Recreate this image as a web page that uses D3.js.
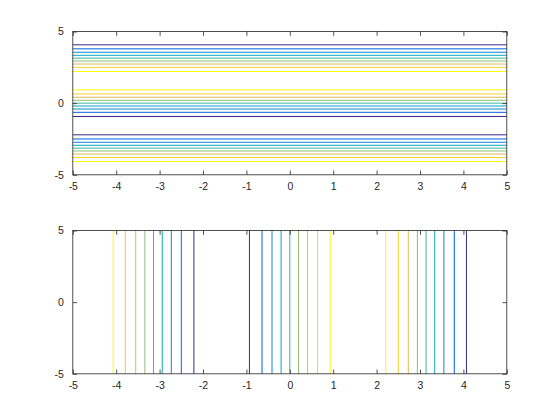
<!DOCTYPE html>
<html><head><meta charset="utf-8">
<script src="https://cdn.jsdelivr.net/npm/d3@7"></script>
<style>body{margin:0;background:#fff}svg{display:block}</style>
</head><body>
<script>
// contour levels and parula colours
const levels = [-0.8, -0.6, -0.4, -0.2, 0, 0.2, 0.4, 0.6, 0.8];
const levelColors = ["#352a87","#0363e1","#1485d4","#06a7c6","#38b99e","#92bf73","#d9ba56","#fcce2e","#f9fb0e"];
// top panel: horizontal contour lines, y positions per level (three per level)
const topLineY = [
  [-0.93, 4.07, -2.21],
  [-0.64, 3.79, -2.50],
  [-0.41, 3.55, -2.73],
  [-0.20, 3.34, -2.94],
  [0.00, 3.14, -3.14],
  [0.20, 2.94, -3.34],
  [0.41, 2.73, -3.55],
  [0.64, 2.50, -3.79],
  [0.93, 2.21, -4.07]
];
// bottom panel: vertical contour lines, x positions per level
const bottomLineX = [
  [-0.93, 4.07, -2.21],
  [-0.64, 3.79, -2.50],
  [-0.41, 3.55, -2.73],
  [-0.20, 3.34, -2.94],
  [0.00, 3.14, -3.14],
  [0.20, 2.94, -3.34],
  [0.41, 2.73, -3.55],
  [0.64, 2.50, -3.79],
  [0.93, 2.21, -4.07]
];
const xTicks = [-5,-4,-3,-2,-1,0,1,2,3,4,5];
const yTicks = [-5,0,5];
const domain = [-5,5];

const W=560,H=420;
const svg=d3.select("body").append("svg").attr("width",W).attr("height",H);
const axColor="#262626";
const left=72.8, right=506.8;
const panels=[{top:31.5,bottom:174.8,kind:"h"},{top:230.5,bottom:373.8,kind:"v"}];
const fmt = d=>String(d);

panels.forEach(p=>{
  const x=d3.scaleLinear().domain(domain).range([left,right]);
  const y=d3.scaleLinear().domain(domain).range([p.bottom,p.top]);
  const g=svg.append("g");
  const segs=[];
  levels.forEach((lv,i)=>{
    const arr = p.kind==="h"? topLineY[i] : bottomLineX[i];
    arr.forEach(v=>segs.push({v, c:levelColors[i]}));
  });
  g.selectAll("line.c").data(segs).enter().append("line")
    .attr("x1",d=>p.kind==="h"?x(domain[0]):x(d.v))
    .attr("x2",d=>p.kind==="h"?x(domain[1]):x(d.v))
    .attr("y1",d=>p.kind==="h"?y(d.v):y(domain[0]))
    .attr("y2",d=>p.kind==="h"?y(d.v):y(domain[1]))
    .attr("stroke",d=>d.c).attr("stroke-width",1);
  const tl=4.3;
  const ax=d3.axisBottom(x).tickValues(xTicks).tickSizeInner(-tl).tickSizeOuter(0).tickPadding(8).tickFormat(fmt);
  const axT=d3.axisTop(x).tickValues(xTicks).tickSizeInner(-tl).tickSizeOuter(0).tickFormat("");
  const ay=d3.axisLeft(y).tickValues(yTicks).tickSizeInner(-tl).tickSizeOuter(0).tickPadding(9).tickFormat(fmt);
  const ayR=d3.axisRight(y).tickValues(yTicks).tickSizeInner(-tl).tickSizeOuter(0).tickFormat("");
  const gx=g.append("g").attr("transform",`translate(0,${p.bottom})`).call(ax);
  const gxt=g.append("g").attr("transform",`translate(0,${p.top})`).call(axT);
  const gy=g.append("g").attr("transform",`translate(${left},0)`).call(ay);
  const gyr=g.append("g").attr("transform",`translate(${right},0)`).call(ayR);
  [gx,gxt,gy,gyr].forEach(a=>{
    a.select(".domain").remove();
    a.selectAll("line").attr("stroke",axColor).attr("stroke-width",0.8);
    a.selectAll("text").attr("fill",axColor).style("font-family","'Liberation Sans',Arial,sans-serif").style("font-size","10.5px");
  });
  g.append("rect").attr("x",left).attr("y",p.top).attr("width",right-left).attr("height",p.bottom-p.top)
    .attr("fill","none").attr("stroke",axColor).attr("stroke-width",0.8);
});
</script>
</body></html>
